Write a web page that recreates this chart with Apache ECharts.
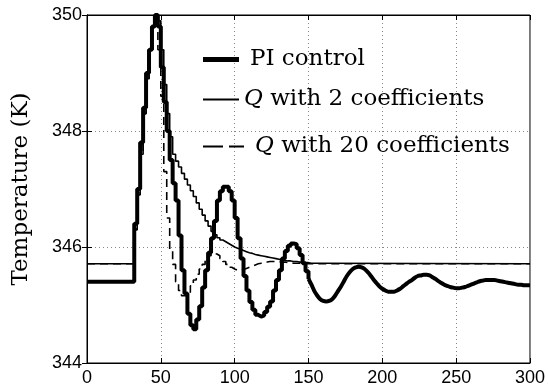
<!DOCTYPE html>
<html><head><meta charset="utf-8">
<script src="https://cdn.jsdelivr.net/npm/echarts@6/dist/echarts.min.js"></script>
<style>html,body{margin:0;padding:0;background:#fff}#c{width:548px;height:388px}</style>
</head><body><div id="c"></div>
<script>
// sample times (s)
const tPI = [0,32,34,36,38,40,42,44,46,48,50,52,54,56,58,60,62,64,66,68,70,72,74,76,78,80,82,84,86,88,90,92,94,96,98,100,102,104,106,108,110,112,114,116,118,120,122,124,126,128,130,132,134,136,138,140,142,144,146,148,150,152,154,156,158,160,162,164,166,168,170,172,174,176,178,180,182,184,186,188,190,192,194,196,198,200,202,204,206,208,210,212,214,216,218,220,222,224,226,228,230,232,234,236,238,240,242,244,246,248,250,252,254,256,258,260,262,264,266,268,270,272,274,276,278,280,282,284,286,288,290,292,294,296,298,300];
// PI control temperature (K)
const piControl = [345.40,346.4,347.0,347.8,348.4,349.0,349.4,349.8,350.0,349.8,349.1,348.5,348.0,347.5,347.1,346.8,346.2,345.6,345.2,344.85,344.65,344.58,344.75,344.98,345.3,345.6,345.9,346.15,346.45,346.8,346.96,347.04,347.04,346.96,346.8,346.5,346.15,345.8,345.5,345.25,345.05,344.92,344.83,344.8,344.82,344.88,344.97,345.06,345.25,345.43,345.6,345.8,345.93,346.02,346.06,346.05,345.98,345.86,345.72,345.58,345.45,345.35,345.24,345.16,345.1,345.07,345.06,345.07,345.1,345.16,345.24,345.32,345.41,345.5,345.57,345.62,345.65,345.66,345.65,345.62,345.57,345.51,345.44,345.38,345.32,345.28,345.25,345.23,345.23,345.23,345.25,345.28,345.32,345.36,345.4,345.43,345.47,345.5,345.51,345.52,345.52,345.51,345.48,345.45,345.41,345.38,345.35,345.33,345.31,345.3,345.29,345.29,345.3,345.31,345.33,345.35,345.37,345.39,345.41,345.42,345.43,345.43,345.43,345.43,345.42,345.41,345.4,345.39,345.38,345.37,345.36,345.35,345.35,345.34,345.34,345.34];
const tQ = [0,32,34,36,38,40,42,44,46,48,50,52,54,56,58,60,62,64,66,68,70,72,74,76,78,80,82,84,86,88,90,92,94,96,98,100,102,104,106,108,110,112,114,116,118,120,122,124,126,128,130,132,134,136,138,140,142,144,146,148,150,152,154,156,300];
// Q with 2 coefficients
const q2Coeff = [345.71,346.3,346.9,347.6,348.3,348.9,349.4,349.8,350.0,349.9,349.4,348.8,348.3,347.9,347.6,347.48,347.38,347.27,347.17,347.07,346.97,346.87,346.76,346.65,346.55,346.45,346.36,346.27,346.21,346.16,346.12,346.09,346.06,346.03,346.0,345.98,345.96,345.94,345.92,345.9,345.89,345.87,345.86,345.85,345.84,345.83,345.82,345.81,345.8,345.79,345.78,345.77,345.76,345.76,345.75,345.75,345.74,345.74,345.73,345.73,345.72,345.72,345.72,345.71,345.71];
// Q with 20 coefficients
const q20Coeff = [345.71,346.3,346.9,347.6,348.3,348.9,349.4,349.8,349.9,349.4,348.6,347.3,346.5,345.95,345.7,345.4,345.25,345.16,345.16,345.22,345.33,345.43,345.53,345.62,345.7,345.78,345.85,345.89,345.88,345.85,345.8,345.75,345.7,345.65,345.62,345.6,345.6,345.61,345.63,345.65,345.67,345.69,345.71,345.72,345.73,345.74,345.75,345.75,345.75,345.75,345.74,345.74,345.73,345.73,345.72,345.72,345.72,345.71,345.71,345.71,345.71,345.71,345.71,345.71,345.71];
const seriesNames = ['PI control','Q with 2 coefficients','Q with 20 coefficients'];
const yAxisTitle = 'Temperature (K)';

function pairs(t, v) { return t.map((x, i) => [x, v[i]]); }
const piPairs = pairs(tPI, piControl);
const piEarly = piPairs.filter(p => p[0] <= 150);   // visibly stair-stepped part
const piLate = piPairs.filter(p => p[0] >= 150);    // smooth-looking tail

const chart = echarts.init(document.getElementById('c'), null, {renderer: 'canvas'});
const serif = 'DejaVu Serif';
const legendText = {
  fontFamily: serif, fontSize: 23, color: '#000',
  rich: { q: { fontFamily: serif, fontStyle: 'italic', fontSize: 23, color: '#000' } }
};
const qFmt = n => n.startsWith('Q') ? '{q|Q}' + n.slice(1) : n;
const gridLine = { show: true, lineStyle: { color: '#888', type: [1, 3], width: 1 } };
const axisLabel = { color: '#000', fontFamily: 'Liberation Sans', fontSize: 18 };
const legendBase = { orient: 'horizontal', selectedMode: false, symbolKeepAspect: false, formatter: qFmt, padding: 0 };

chart.setOption({
  animation: false,
  backgroundColor: '#fff',
  grid: { left: 87, right: 18, top: 15, bottom: 25, show: true, borderColor: '#000', borderWidth: 1 },
  legend: [
    Object.assign({ data: [{ name: seriesNames[0], icon: 'rect' }], left: 203, top: 48, itemWidth: 36, itemHeight: 5,
      textStyle: Object.assign({ padding: [0, 0, 0, 6] }, legendText), itemStyle: { color: '#000' } }, legendBase),
    Object.assign({ data: [{ name: seriesNames[1], icon: 'rect' }], left: 203, top: 88, itemWidth: 36, itemHeight: 2,
      textStyle: Object.assign({ padding: [0, 0, 0, 0] }, legendText), itemStyle: { color: '#000' } }, legendBase),
    Object.assign({ data: [{ name: seriesNames[2], icon: 'path://M0,0H20V2H0Z M26,0H41V2H26Z' }], left: 203, top: 135, itemWidth: 41, itemHeight: 2,
      textStyle: Object.assign({ padding: [0, 0, 0, 6] }, legendText), itemStyle: { color: '#000' } }, legendBase)
  ],
  xAxis: [
    { type: 'value', min: 0, max: 300, interval: 50, position: 'bottom',
      axisLine: { lineStyle: { color: '#000', width: 1 } },
      axisTick: { inside: true, length: 5, lineStyle: { color: '#000' } },
      axisLabel: Object.assign({ margin: 6 }, axisLabel),
      splitLine: gridLine },
    { type: 'value', min: 0, max: 300, interval: 50, position: 'top',
      axisLine: { lineStyle: { color: '#000' } },
      axisTick: { inside: true, length: 5, lineStyle: { color: '#000' } },
      axisLabel: { show: false }, splitLine: { show: false } }
  ],
  yAxis: [
    { type: 'value', min: 344, max: 350, interval: 2, position: 'left',
      name: yAxisTitle, nameLocation: 'middle', nameGap: 54,
      nameTextStyle: { fontFamily: serif, fontSize: 23, color: '#000' },
      axisLine: { lineStyle: { color: '#000', width: 1 } },
      axisTick: { inside: true, length: 5, lineStyle: { color: '#000' } },
      axisLabel: Object.assign({ margin: 5 }, axisLabel),
      splitLine: gridLine },
    { type: 'value', min: 344, max: 350, interval: 2, position: 'right',
      axisLine: { lineStyle: { color: '#000' } },
      axisTick: { inside: true, length: 5, lineStyle: { color: '#000' } },
      axisLabel: { show: false }, splitLine: { show: false } }
  ],
  series: [
    { name: seriesNames[1], type: 'line', step: 'end', data: pairs(tQ, q2Coeff), symbol: 'none',
      lineStyle: { color: '#000', width: 1.6 }, itemStyle: { color: '#000' }, z: 3 },
    { name: seriesNames[2], type: 'line', step: 'end', data: pairs(tQ, q20Coeff), symbol: 'none',
      lineStyle: { color: '#000', width: 1.6, type: [8, 5] }, itemStyle: { color: '#000' }, z: 3 },
    { name: seriesNames[0], type: 'line', step: 'end', data: piEarly, symbol: 'none',
      lineStyle: { color: '#000', width: 4 }, itemStyle: { color: '#000' }, z: 4 },
    { name: seriesNames[0], type: 'line', smooth: 0.3, data: piLate, symbol: 'none',
      lineStyle: { color: '#000', width: 4 }, itemStyle: { color: '#000' }, z: 4 }
  ]
});
</script></body></html>
